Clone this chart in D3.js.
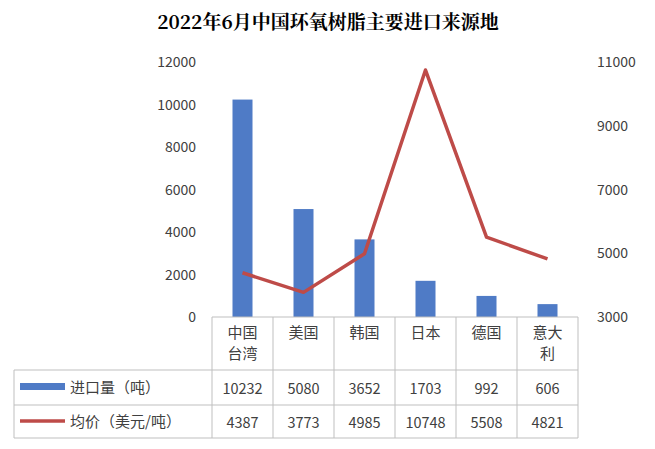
<!DOCTYPE html>
<html><head><meta charset="utf-8">
<script src="https://cdn.jsdelivr.net/npm/d3@7"></script>
<style>body{margin:0;background:#fff}text{font-family:"Noto Sans CJK SC","Noto Sans",sans-serif;fill:#404040}</style>
</head><body><svg id="c" width="655" height="449"></svg>
<script>
// data
const categories = [['中国', '台湾'], ['美国'], ['韩国'], ['日本'], ['德国'], ['意大', '利']];
const imports = [10232, 5080, 3652, 1703, 992, 606];
const prices = [4387, 3773, 4985, 10748, 5508, 4821];
const leftTicks = [0, 2000, 4000, 6000, 8000, 10000, 12000];
const rightTicks = [3000, 5000, 7000, 9000, 11000];

const svg = d3.select('#c');
const x0 = 212, x1 = 578, yTop = 62, yBot = 317;
const x = d3.scaleBand().domain(d3.range(6)).range([x0, x1]);
const yL = d3.scaleLinear().domain([0, 12000]).range([yBot, yTop]);
const yR = d3.scaleLinear().domain([3000, 11000]).range([yBot, yTop]);
const grid = '#bfbfbf';

svg.append('text').attr('x', 328).attr('y', 29).attr('text-anchor', 'middle')
    .style('font-family', '"Noto Serif CJK SC","Noto Sans CJK SC",serif').style('font-weight', 'bold')
    .style('font-size', '19px').style('fill', '#000').text('2022年6月中国环氧树脂主要进口来源地');

// axis labels
svg.selectAll('.yl').data(leftTicks).enter().append('text')
    .attr('x', 196).attr('y', d => yL(d) + 5).attr('text-anchor', 'end')
    .style('font-size', '14px').text(d => d);
svg.selectAll('.yr').data(rightTicks).enter().append('text')
    .attr('x', 597).attr('y', d => yR(d) + 5)
    .style('font-size', '14px').text(d => d);

// bars
svg.selectAll('.bar').data(imports).enter().append('rect')
    .attr('x', (d, i) => x(i) + x.bandwidth() / 2 - 10).attr('width', 20)
    .attr('y', d => yL(d)).attr('height', d => yBot - yL(d)).attr('fill', '#4F7BC6');

// line
const line = d3.line().x((d, i) => x(i) + x.bandwidth() / 2).y(d => yR(d));
svg.append('path').datum(prices).attr('d', line).attr('fill', 'none')
    .attr('stroke', '#BE4B48').attr('stroke-width', 3.5).attr('stroke-linejoin', 'round');

// table
const rows = [yBot, 370, 405, 438];
const tl = 14;
svg.append('line').attr('x1', x0).attr('x2', x1).attr('y1', yBot).attr('y2', yBot).attr('stroke', grid);
rows.slice(1).forEach(r => svg.append('line').attr('x1', tl).attr('x2', x1).attr('y1', r).attr('y2', r).attr('stroke', grid));
d3.range(7).forEach(i => {
    const xx = i < 6 ? x(i) : x1;
    svg.append('line').attr('x1', xx).attr('x2', xx).attr('y1', yBot).attr('y2', rows[3]).attr('stroke', grid);
});
svg.append('line').attr('x1', tl).attr('x2', tl).attr('y1', rows[1]).attr('y2', rows[3]).attr('stroke', grid);

categories.forEach((c, i) => {
    const cx = x(i) + x.bandwidth() / 2;
    c.forEach((s, j) => svg.append('text').attr('x', cx).attr('y', 338 + j * 21)
        .attr('text-anchor', 'middle').style('font-size', '15px').text(s));
    svg.append('text').attr('x', cx).attr('y', 394).attr('text-anchor', 'middle').style('font-size', '14.5px').text(imports[i]);
    svg.append('text').attr('x', cx).attr('y', 428).attr('text-anchor', 'middle').style('font-size', '14.5px').text(prices[i]);
});
svg.append('rect').attr('x', 20).attr('y', 383).attr('width', 45).attr('height', 7).attr('fill', '#4F7BC6');
svg.append('text').attr('x', 70).attr('y', 393).style('font-size', '15px').text('进口量（吨）');
svg.append('line').attr('x1', 20).attr('x2', 65).attr('y1', 421).attr('y2', 421).attr('stroke', '#BE4B48').attr('stroke-width', 3.5);
svg.append('text').attr('x', 70).attr('y', 427).style('font-size', '15px').text('均价（美元/吨）');
</script></body></html>
